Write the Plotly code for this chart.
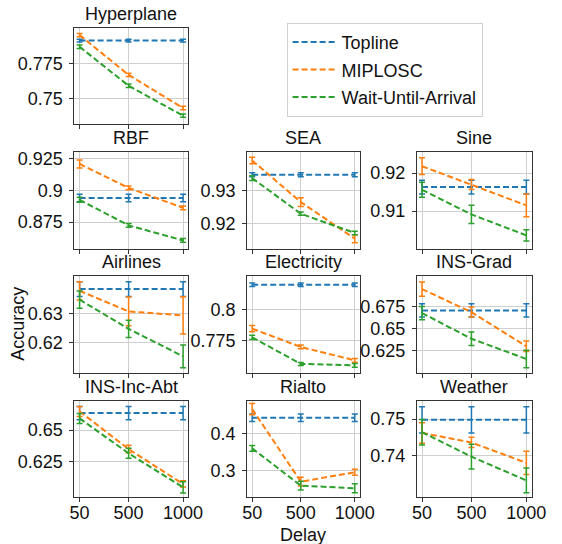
import plotly.graph_objects as go

# ---------------- data ----------------
delays = [50, 500, 1000]
datasets = ["Hyperplane", "RBF", "SEA", "Sine", "Airlines", "Electricity",
            "INS-Grad", "INS-Inc-Abt", "Rialto", "Weather"]
series_names = ["Topline", "MIPLOSC", "Wait-Until-Arrival"]

topline_mean = [
    [0.7916, 0.7916, 0.7916],
    [0.8940, 0.8940, 0.8940],
    [0.9347, 0.9347, 0.9347],
    [0.9163, 0.9163, 0.9163],
    [0.6386, 0.6386, 0.6386],
    [0.8202, 0.8202, 0.8202],
    [0.6708, 0.6708, 0.6708],
    [0.6636, 0.6636, 0.6636],
    [0.4420, 0.4420, 0.4420],
    [0.7498, 0.7498, 0.7498],
]
topline_err = [
    [0.0010, 0.0010, 0.0010],
    [0.0030, 0.0030, 0.0030],
    [0.0006, 0.0006, 0.0006],
    [0.0018, 0.0018, 0.0018],
    [0.0026, 0.0026, 0.0026],
    [0.0015, 0.0015, 0.0015],
    [0.0076, 0.0076, 0.0076],
    [0.0053, 0.0053, 0.0053],
    [0.0100, 0.0100, 0.0100],
    [0.0036, 0.0036, 0.0036],
]
miplosc_mean = [
    [0.7955, 0.7669, 0.7431],
    [0.9210, 0.9020, 0.8863],
    [0.9390, 0.9265, 0.9155],
    [0.9218, 0.9170, 0.9115],
    [0.6380, 0.6308, 0.6294],
    [0.7847, 0.7699, 0.7591],
    [0.6951, 0.6689, 0.6299],
    [0.6649, 0.6348, 0.6069],
    [0.4652, 0.2705, 0.2955],
    [0.7462, 0.7436, 0.7380],
]
miplosc_err = [
    [0.0012, 0.0012, 0.0012],
    [0.0032, 0.0015, 0.0015],
    [0.0010, 0.0013, 0.0012],
    [0.0022, 0.0013, 0.0030],
    [0.0032, 0.0050, 0.0065],
    [0.0025, 0.0015, 0.0015],
    [0.0080, 0.0057, 0.0060],
    [0.0040, 0.0030, 0.0025],
    [0.0150, 0.0120, 0.0080],
    [0.0028, 0.0014, 0.0032],
]
wua_mean = [
    [0.7871, 0.7591, 0.7376],
    [0.8926, 0.8724, 0.8605],
    [0.9337, 0.9230, 0.9172],
    [0.9156, 0.9091, 0.9036],
    [0.6349, 0.6247, 0.6151],
    [0.7777, 0.7562, 0.7551],
    [0.6678, 0.6386, 0.6155],
    [0.6593, 0.6314, 0.6042],
    [0.3598, 0.2598, 0.2527],
    [0.7464, 0.7397, 0.7332],
]
wua_err = [
    [0.0012, 0.0012, 0.0012],
    [0.0020, 0.0015, 0.0015],
    [0.0007, 0.0005, 0.0005],
    [0.0020, 0.0024, 0.0015],
    [0.0030, 0.0030, 0.0040],
    [0.0017, 0.0012, 0.0015],
    [0.0076, 0.0076, 0.0100],
    [0.0040, 0.0040, 0.0045],
    [0.0080, 0.0120, 0.0120],
    [0.0035, 0.0034, 0.0034],
]
ytick_vals = [
    [0.75, 0.775],
    [0.875, 0.9, 0.925],
    [0.92, 0.93],
    [0.91, 0.92],
    [0.62, 0.63],
    [0.775, 0.8],
    [0.625, 0.65, 0.675],
    [0.625, 0.65],
    [0.3, 0.4],
    [0.74, 0.75],
]
ytick_text = [
    ["0.75", "0.775"],
    ["0.875", "0.9", "0.925"],
    ["0.92", "0.93"],
    ["0.91", "0.92"],
    ["0.62", "0.63"],
    ["0.775", "0.8"],
    ["0.625", "0.65", "0.675"],
    ["0.625", "0.65"],
    ["0.3", "0.4"],
    ["0.74", "0.75"],
]
xtick_vals = [50, 500, 1000]
xtick_text = ["50", "500", "1000"]

# ---------------- layout ----------------
W, H = 562, 544
FONT = "Liberation Sans"
TXT = "#111111"
colors = ["#1f77b4", "#ff7f0e", "#2ca02c"]

# grid cell (row, col) per dataset
cells = [(0, 0), (1, 0), (1, 1), (1, 2), (2, 0), (2, 1), (2, 2),
         (3, 0), (3, 1), (3, 2)]
col_px = [(72, 190), (251, 368), (427, 546)]
row_px = [(25, 122), (150, 247), (275, 372), (400, 497)]
yranges = [
    [0.7314, 0.8007], [0.854, 0.9303], [0.9125, 0.9415], [0.9001, 0.9255],
    [0.6093, 0.643], [0.7489, 0.8269], [0.5996, 0.7095], [0.5963, 0.6734],
    [0.2286, 0.4875], [0.7286, 0.755],
]

fig = go.Figure()
means = [topline_mean, miplosc_mean, wua_mean]
errs = [topline_err, miplosc_err, wua_err]

annotations = []
for i, name in enumerate(datasets):
    r, c = cells[i]
    ax = "" if i == 0 else str(i + 1)
    xa, ya = "x" + ax, "y" + ax
    x0, x1 = col_px[c]
    y0, y1 = row_px[r]
    for s in range(3):
        fig.add_trace(go.Scatter(
            x=delays, y=means[s][i],
            error_y=dict(type="data", array=errs[s][i], visible=True,
                         color=colors[s], thickness=1.5, width=3),
            mode="lines",
            line=dict(color=colors[s], width=2, dash="6px,3px"),
            name=series_names[s], legendgroup=series_names[s],
            showlegend=(i == 0),
            xaxis=xa, yaxis=ya, hoverinfo="skip",
        ))
    axis_common = dict(
        showline=True, linecolor="#333333", linewidth=1, mirror=True,
        showgrid=True, gridcolor="#cfcfcf", gridwidth=1,
        ticks="outside", ticklen=4, tickcolor="#333333", tickwidth=1,
        zeroline=False, tickfont=dict(family=FONT, size=18, color=TXT),
    )
    fig.layout["xaxis" + ax] = dict(
        axis_common, domain=[x0 / W, x1 / W], range=[2.5, 1047.5],
        tickvals=xtick_vals, ticktext=xtick_text,
        showticklabels=(r == 3), anchor=ya, ticklabelstandoff=-5,
    )
    fig.layout["yaxis" + ax] = dict(
        axis_common, domain=[1 - y1 / H, 1 - y0 / H], range=yranges[i],
        tickvals=ytick_vals[i], ticktext=ytick_text[i], anchor=xa,
        ticklabelstandoff=3,
    )
    annotations.append(dict(
        text=name, x=(x0 + x1) / 2 / W, y=1 - (y0 - 2) / H,
        xref="paper", yref="paper", xanchor="center", yanchor="bottom",
        showarrow=False, font=dict(family=FONT, size=18, color=TXT),
    ))

annotations.append(dict(
    text="Delay", x=(251 + 368) / 2 / W, y=1 - 535 / H, xref="paper",
    yref="paper", xanchor="center", yanchor="middle", showarrow=False,
    font=dict(family=FONT, size=18, color=TXT),
))
annotations.append(dict(
    text="Accuracy", x=14 / W, y=1 - 323 / H, xref="paper", yref="paper",
    xanchor="center", yanchor="middle", textangle=-90, showarrow=False,
    font=dict(family=FONT, size=18, color=TXT),
))

fig.update_layout(
    width=W, height=H,
    margin=dict(l=0, r=0, t=0, b=0),
    paper_bgcolor="white", plot_bgcolor="white",
    annotations=annotations,
    showlegend=True,
    legend=dict(
        x=292 / W, y=1 - 20 / H, xanchor="left", yanchor="top",
        bgcolor="white", bordercolor="#d0d0d0", borderwidth=1,
        font=dict(family=FONT, size=18, color=TXT),
        tracegroupgap=1, itemwidth=44,
    ),
)

fig.write_html("out.html", config={"displayModeBar": False},
               post_script="document.body.style.margin='0px';")
